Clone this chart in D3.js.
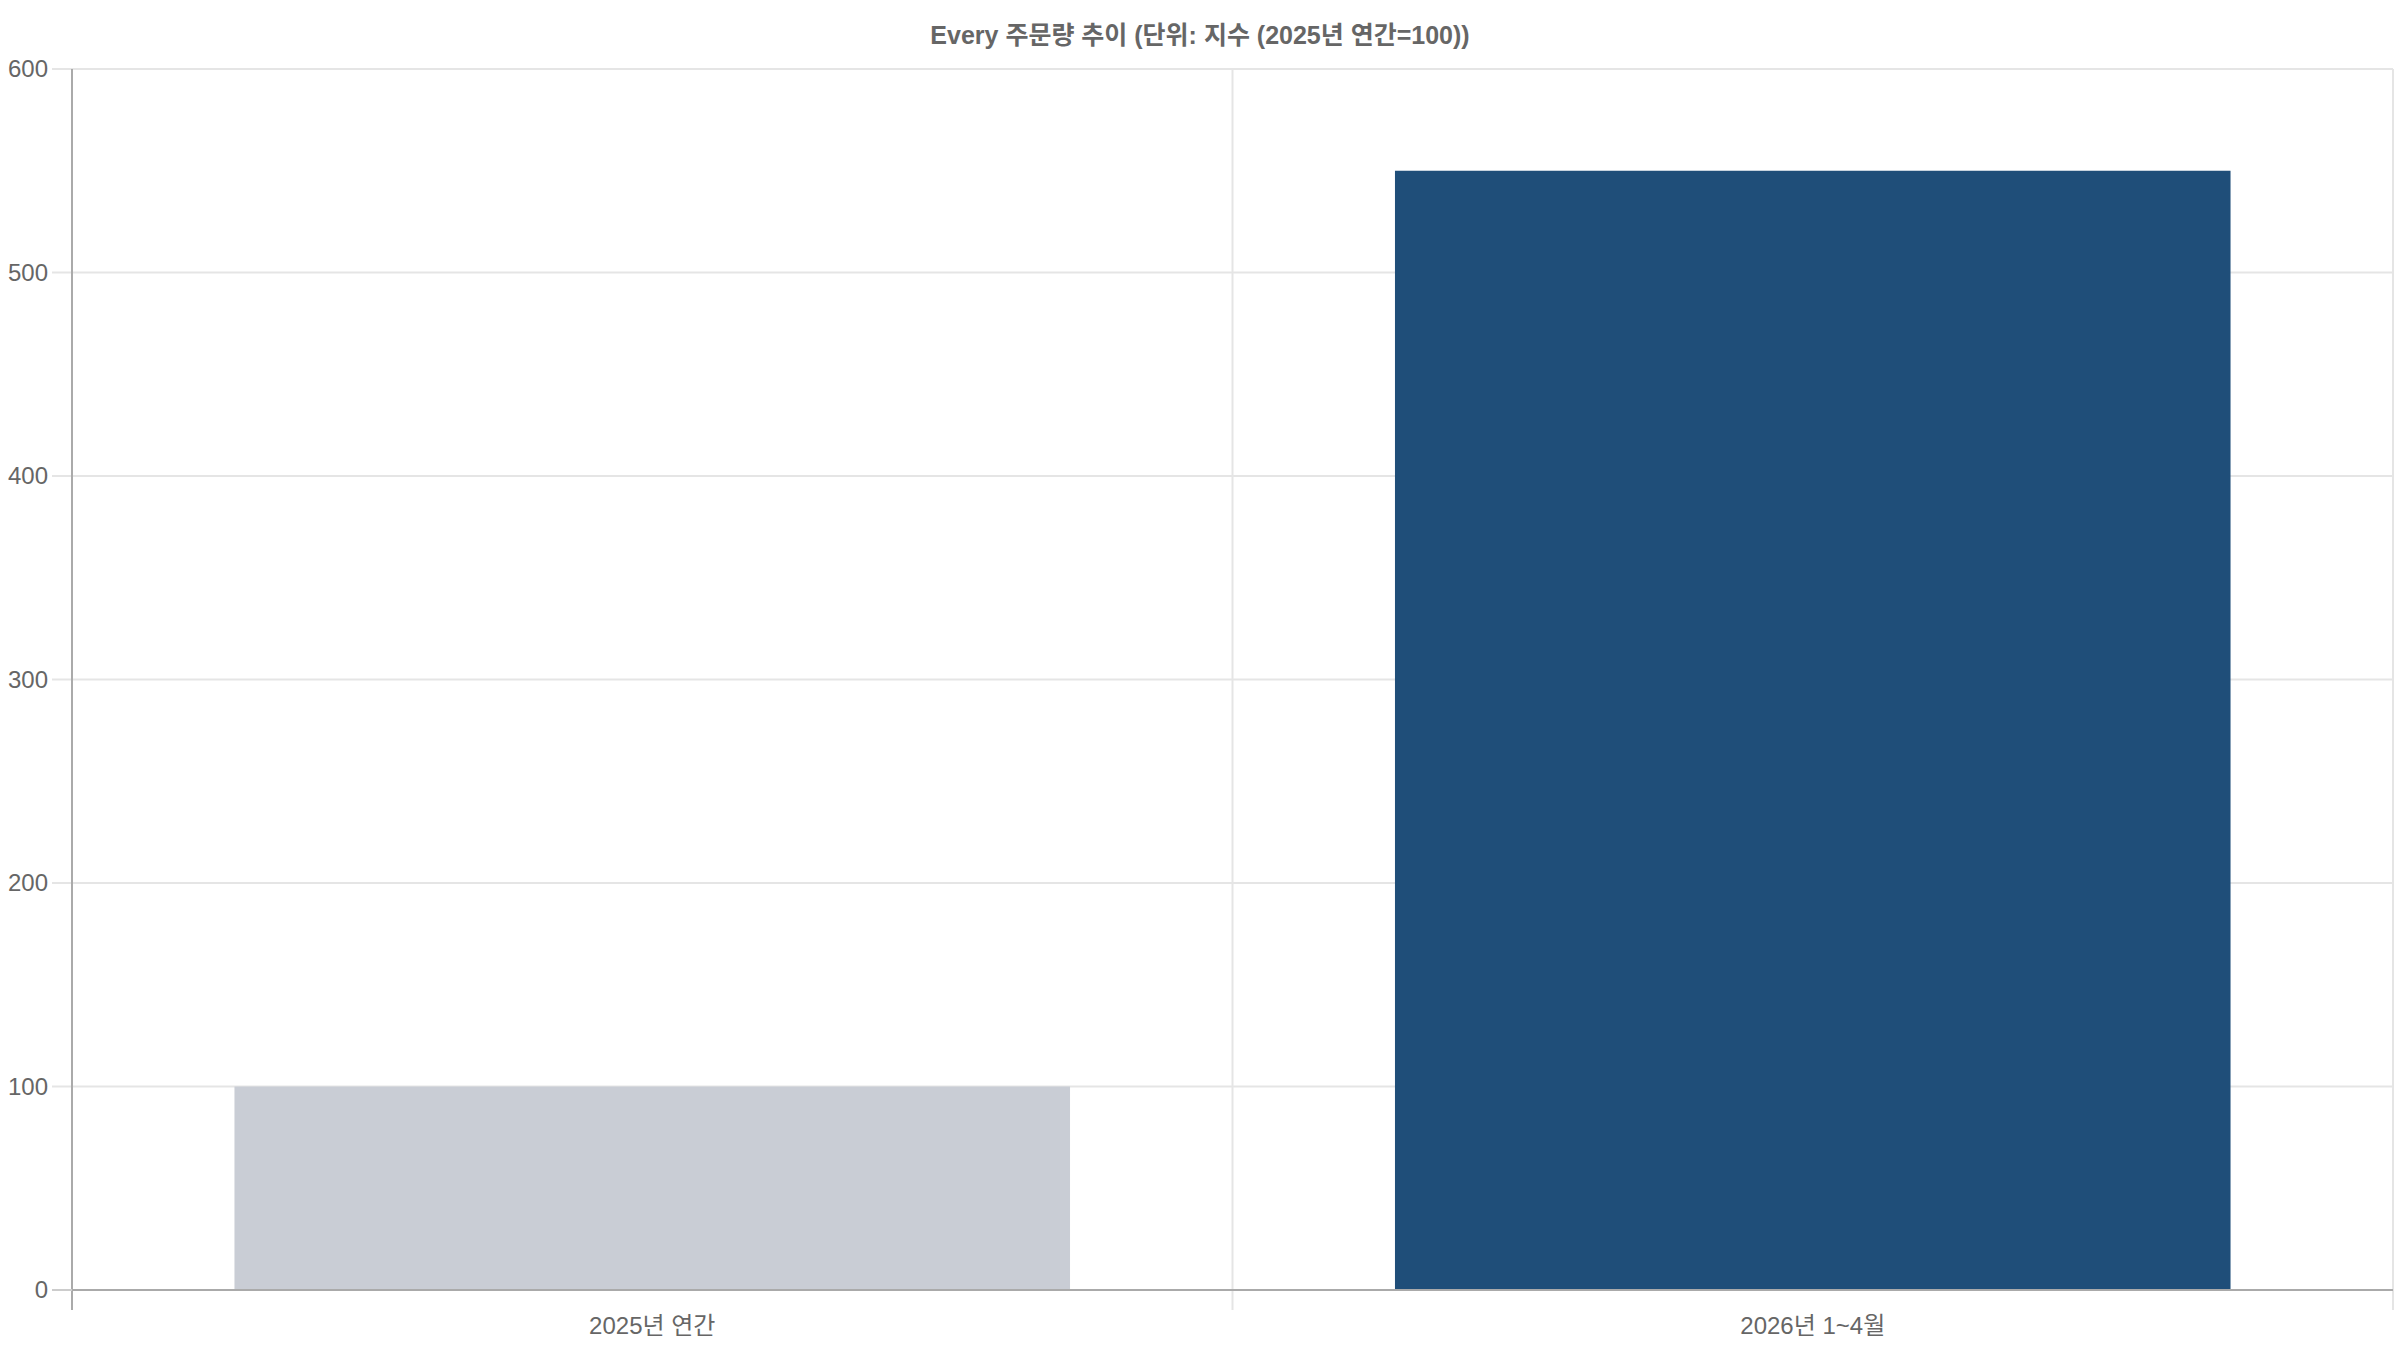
<!DOCTYPE html>
<html>
<head>
<meta charset="utf-8">
<script src="https://cdn.jsdelivr.net/npm/d3@7"></script>
<style>
  html, body { margin: 0; padding: 0; background: #fff; }
  svg { display: block; }
  text { font-family: "Liberation Sans", Arial, "Noto Sans CJK KR", sans-serif; fill: #666; }
</style>
</head>
<body>
<div id="chart"></div>
<script>
'use strict';

var title = 'Every 주문량 추이 (단위: 지수 (2025년 연간=100))';
var categories = ['2025년 연간', '2026년 1~4월'];
var values = [100, 550];
var barColors = ['#c9cdd5', '#1f4e79'];
var yTicks = [0, 100, 200, 300, 400, 500, 600];

var chartW = 2400, chartH = 1350;
var plotLeft = 72, plotRight = 2393, plotTop = 69, plotBottom = 1290;
var tickLen = 20;

var svg = d3.select('#chart')
  .append('svg')
  .attr('width', chartW)
  .attr('height', chartH);

var x = d3.scaleBand()
  .domain(categories)
  .range([plotLeft, plotRight])
  .paddingInner(0.28)
  .paddingOuter(0.14);

var y = d3.scaleLinear()
  .domain([0, 600])
  .range([plotBottom, plotTop]);

// horizontal grid + y tick marks
svg.selectAll('line.hgrid')
  .data(yTicks)
  .enter()
  .append('line')
  .attr('class', 'hgrid')
  .attr('x1', plotLeft - tickLen)
  .attr('x2', plotRight)
  .attr('y1', function(d) { return y(d); })
  .attr('y2', function(d) { return y(d); })
  .attr('stroke', '#e5e5e5')
  .attr('stroke-width', 2);

// vertical grid at category edges
var step = x.step();
var edges = [plotLeft, plotLeft + step, plotRight];
svg.selectAll('line.vgrid')
  .data(edges)
  .enter()
  .append('line')
  .attr('class', 'vgrid')
  .attr('x1', function(d) { return d; })
  .attr('x2', function(d) { return d; })
  .attr('y1', plotTop)
  .attr('y2', plotBottom + tickLen)
  .attr('stroke', '#e5e5e5')
  .attr('stroke-width', 2);

// bars
svg.selectAll('rect.bar')
  .data(values)
  .enter()
  .append('rect')
  .attr('class', 'bar')
  .attr('x', function(d, i) { return x(categories[i]); })
  .attr('width', x.bandwidth())
  .attr('y', function(d) { return y(d); })
  .attr('height', function(d) { return y(0) - y(d); })
  .style('fill', function(d, i) { return barColors[i]; });

// axis lines
svg.append('line')
  .attr('x1', plotLeft).attr('x2', plotLeft)
  .attr('y1', plotTop).attr('y2', plotBottom + tickLen)
  .attr('stroke', '#aaa')
  .attr('stroke-width', 2);

svg.append('line')
  .attr('x1', plotLeft).attr('x2', plotRight)
  .attr('y1', plotBottom).attr('y2', plotBottom)
  .attr('stroke', '#aaa')
  .attr('stroke-width', 2);

svg.append('line')
  .attr('x1', plotLeft - tickLen).attr('x2', plotLeft)
  .attr('y1', plotBottom).attr('y2', plotBottom)
  .attr('stroke', '#ccc')
  .attr('stroke-width', 2);

// y tick labels
svg.selectAll('text.ylab')
  .data(yTicks)
  .enter()
  .append('text')
  .attr('class', 'ylab')
  .attr('x', 48)
  .attr('y', function(d) { return y(d); })
  .attr('dy', '0.35em')
  .attr('text-anchor', 'end')
  .attr('font-size', '24px')
  .text(function(d) { return d; });

// x tick labels
svg.selectAll('text.xlab')
  .data(categories)
  .enter()
  .append('text')
  .attr('class', 'xlab')
  .attr('x', function(d) { return x(d) + x.bandwidth() / 2; })
  .attr('y', 1334)
  .attr('text-anchor', 'middle')
  .attr('font-size', '24px')
  .text(function(d) { return d; });

// title
svg.append('text')
  .attr('x', chartW / 2)
  .attr('y', 44)
  .attr('text-anchor', 'middle')
  .attr('font-size', '25px')
  .attr('font-weight', 'bold')
  .text(title);
</script>
</body>
</html>
